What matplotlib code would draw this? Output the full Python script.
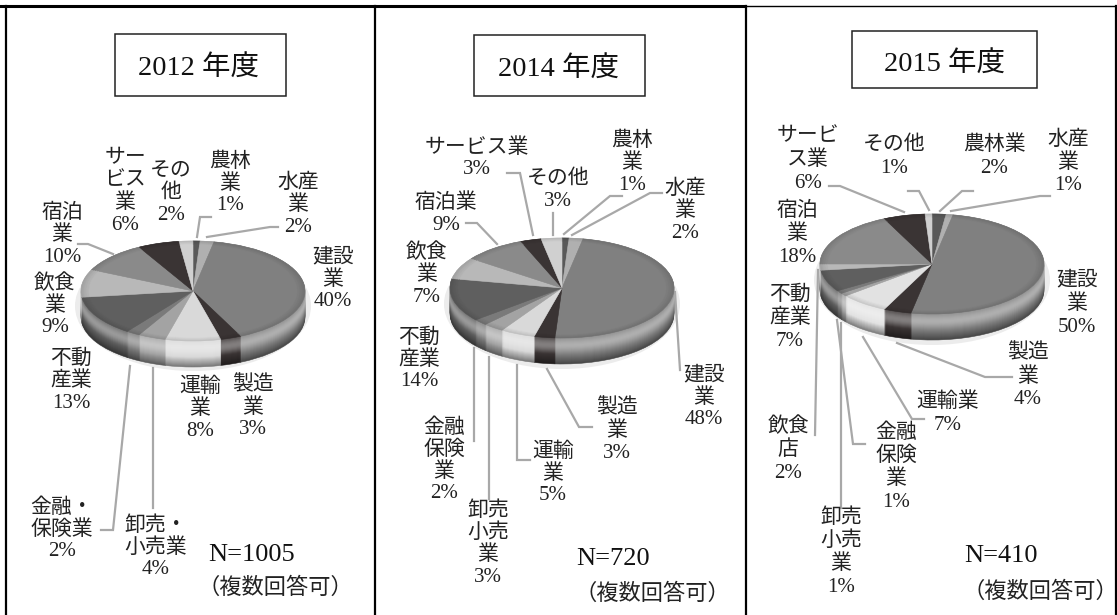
import matplotlib
matplotlib.use("Agg")
import matplotlib.pyplot as plt
import numpy as np
from matplotlib.patches import Ellipse, Rectangle

W, H = 1117, 615
FONT = ['Liberation Serif', 'Noto Sans CJK JP', 'DejaVu Sans']
LEADER = '#a8a8a8'

# slice colours, clockwise from 12 o'clock
colors_2012 = ['#595959', '#b0b0b0', '#808080', '#3a3434', '#d9d9d9', '#a3a3a3',
               '#7a7a7a', '#5f5f5f', '#b8b8b8', '#8a8a8a', '#3a3434', '#d0d0d0']
colors_2015 = ['#595959', '#b0b0b0', '#808080', '#3a3434', '#e2e2e2', '#a3a3a3',
               '#7a7a7a', '#5f5f5f', '#b8b8b8', '#8a8a8a', '#3a3434', '#d0d0d0']

labels_2012 = ['農林\n業', '水産\n業', '建設\n業', '製造\n業', '運輸\n業', '卸売・\n小売業',
               '金融・\n保険業', '不動\n産業', '飲食\n業', '宿泊\n業', 'サー\nビス\n業', 'その\n他']
values_2012 = [1, 2, 40, 3, 8, 4, 2, 13, 9, 10, 6, 2]

labels_2014 = ['農林\n業', '水産\n業', '建設\n業', '製造\n業', '運輸\n業', '卸売\n小売\n業',
               '金融\n保険\n業', '不動\n産業', '飲食\n業', '宿泊業', 'サービス業', 'その他']
values_2014 = [1, 2, 48, 3, 5, 3, 2, 14, 7, 9, 3, 3]

labels_2015 = ['農林業', '水産\n業', '建設\n業', '製造\n業', '運輸業', '卸売\n小売\n業',
               '金融\n保険\n業', '不動\n産業', '飲食\n店', '宿泊\n業', 'サービ\nス業', 'その他']
values_2015 = [2, 1, 50, 4, 7, 1, 1, 7, 2, 18, 6, 1]

# layout: label centres in pixels, same order as the labels
pos_2012 = [(230, 184), (298, 205), (333, 280), (253, 408), (200, 409), (156, 548),
            (62, 530), (71, 381), (55, 306), (62, 235), (125, 192), (171, 193)]
pos_2014 = [(632, 163), (685, 211), (704, 398), (617, 431), (553, 474), (488, 544),
            (444, 461), (419, 360), (427, 275), (446, 214), (477, 159), (558, 190)]
pos_2015 = [(994, 157), (1068, 163), (1077, 304), (1028, 377), (948, 414), (841, 553),
            (896, 468), (790, 318), (788, 450), (797, 234), (808, 160), (894, 157)]

leaders_2012 = [[(197, 237), (200, 217), (211, 217)], [(207, 237), (270, 227), (278, 227)],
                [(153, 368), (153, 508)], [(130, 366), (113, 530), (101, 530)],
                [(113, 254), (88, 244), (78, 244)]]
leaders_2014 = [[(564, 234), (610, 196), (622, 196)], [(572, 235), (650, 193), (662, 193)],
                [(553, 235), (553, 213)], [(533, 235), (520, 173), (507, 173)],
                [(497, 244), (477, 223), (466, 223)], [(675, 292), (680, 370)],
                [(547, 369), (579, 427), (592, 427)], [(517, 365), (517, 460), (530, 460)],
                [(489, 357), (489, 499)], [(474, 348), (474, 441)]]
leaders_2015 = [[(940, 211), (962, 191), (973, 191)], [(951, 211), (1040, 196), (1050, 196)],
                [(929, 210), (919, 191), (908, 191)], [(904, 212), (840, 186), (829, 186)],
                [(818, 270), (815, 435)], [(841, 323), (841, 508)],
                [(837, 320), (853, 444), (865, 444)], [(863, 337), (912, 419), (924, 419)],
                [(897, 343), (985, 377), (1012, 377)]]


def shade(colors, k):
    # k > 0 goes to white, k < 0 goes to black
    rgb = np.array([matplotlib.colors.to_rgb(c) for c in colors])
    if k > 0:
        return rgb + (1 - rgb) * k
    return rgb * (1 + k)


def layer(ax, values, colors, k, y=0, r=1):
    wedges, _ = ax.pie(values, colors=shade(colors, k), startangle=90, counterclock=False,
                       center=(0, y), radius=r)
    for w in wedges:
        # hide the seams between slices
        w.set_edgecolor(w.get_facecolor())
        w.set_linewidth(0.4)


def draw_pie(fig, values, colors, cx, cy, a=112, b=50, rim=26):
    # inset axes in pixel terms, one data unit is one semi axis
    pad_x, pad_y = 1.1, 1.7
    rect = [(cx - a * pad_x) / W, 1 - (cy + b * pad_y) / H, 2 * a * pad_x / W, 2 * b * pad_y / H]
    ax = fig.add_axes(rect)
    d = rim / b
    # the side wall, stacked from the bottom edge up
    for t in np.linspace(1, 0, 27):
        k = 0.38 * np.exp(-((t - 0.3) / 0.3) ** 2) - 0.45 * t ** 3
        layer(ax, values, colors, k, y=-d * t)
    # bevel round the top face
    for r, k in [(1.0, -0.12), (0.985, -0.09), (0.97, -0.06), (0.95, -0.03), (0.93, 0)]:
        layer(ax, values, colors, k, r=r)
    ax.set_aspect('auto')
    ax.set_xlim(-pad_x, pad_x)
    ax.set_ylim(-pad_y, pad_y)
    ax.patch.set_visible(False)
    ax.axis('off')


def put_labels(ax, labels, values, positions, pitch=22):
    for lab, v, (x, y) in zip(labels, values, positions):
        lines = (lab + f'\n{v}%').split('\n')
        for i, s in enumerate(lines):
            yy = y + (i - (len(lines) - 1) / 2) * pitch
            ax.text(x, yy, s, ha='center', va='center', fontsize=15, color='#222222', family=FONT)


fig = plt.figure(figsize=(W / 100, H / 100), dpi=100)
bg = fig.add_axes([0, 0, 1, 1])
bg.set_xlim(0, W)
bg.set_ylim(H, 0)
bg.axis('off')

# table frame
bg.plot([0, 745], [6, 6], color='black', lw=2.2)
bg.plot([745, W], [6, 6], color='black', lw=1.0)
for x in [6, 375, 746, 1116]:
    bg.plot([x, x], [6, H], color='black', lw=1.6)

# title boxes
boxes = [(115, 34, 171, 62, '2012 年度', 199, 69), (474, 35, 171, 61, '2014 年度', 559, 70),
         (852, 31, 185, 57, '2015 年度', 944, 65)]
for x, y, w, h, s, tx, ty in boxes:
    bg.add_patch(Rectangle((x, y), w, h, fc='white', ec='#222222', lw=1.1))
    bg.text(tx, ty, s, ha='center', va='center', fontsize=20.5, color='#111111', family=FONT)

# soft shadow under each pie
for cx, cy in [(193, 300), (562, 298), (932, 274)]:
    bg.add_patch(Ellipse((cx, cy + 6), 236, 130, fc='#ececec', ec='none'))

for lines in [leaders_2012, leaders_2014, leaders_2015]:
    for pts in lines:
        xs, ys = zip(*pts)
        bg.plot(xs, ys, color=LEADER, lw=1.6, solid_joinstyle='miter')

draw_pie(fig, values_2012, colors_2012, 193, 291)
draw_pie(fig, values_2014, colors_2012, 562, 288)
draw_pie(fig, values_2015, colors_2015, 932, 264)

put_labels(bg, labels_2012, values_2012, pos_2012)
put_labels(bg, labels_2014, values_2014, pos_2014)
put_labels(bg, labels_2015, values_2015, pos_2015, pitch=23)

for s, x, y in [('N=1005', 252, 555), ('N=720', 613, 559), ('N=410', 1001, 556)]:
    bg.text(x, y, s, ha='center', va='center', fontsize=19, color='#111111', family=FONT)
for x, y in [(275, 588), (652, 594), (1040, 592)]:
    bg.text(x, y, '（複数回答可）', ha='center', va='center', fontsize=16, color='#222222', family=FONT)

fig.savefig('out.png', dpi=100, facecolor='white')
